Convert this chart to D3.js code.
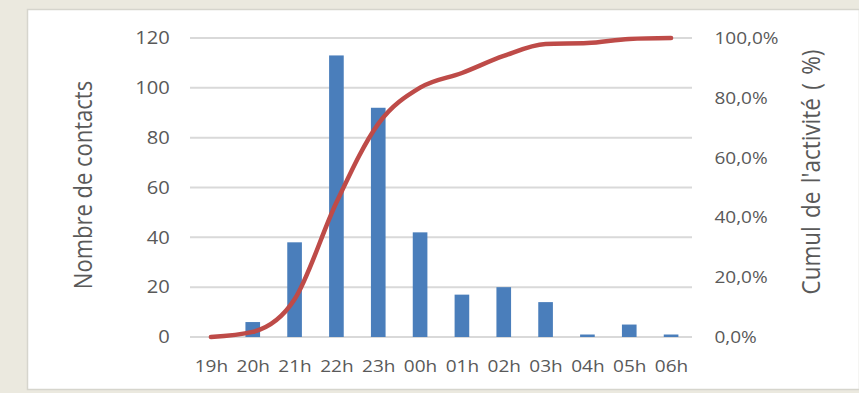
<!DOCTYPE html>
<html>
<head>
<meta charset="utf-8">
<script src="https://cdn.jsdelivr.net/npm/d3@7"></script>
<style>
  html, body { margin: 0; padding: 0; background: #ebe9df; }
  svg { display: block; }
  text { font-family: "Open Sans", sans-serif; fill: #595959; }
</style>
</head>
<body>
<svg id="chart" width="859" height="393"></svg>
<script>
// Heures de la nuit
const hours = ["19h", "20h", "21h", "22h", "23h", "00h", "01h", "02h", "03h", "04h", "05h", "06h"];
// Nombre de contacts par heure
const contacts = [0, 6, 38, 113, 92, 42, 17, 20, 14, 1, 5, 1];
// Cumul de l'activité (%)
const cumul = [0, 1.7, 12.6, 45.0, 71.3, 83.4, 88.3, 94.0, 98.0, 98.3, 99.7, 100];
// Graduations
const leftTicks = [0, 20, 40, 60, 80, 100, 120];
const rightTicks = [0, 20, 40, 60, 80, 100];

const svg = d3.select("#chart");
const W = 859;
const plot = { left: 190, right: 692, top: 38, bottom: 337 };
const textStretch = 1.12;

// Cadre blanc du graphique
svg.append("rect")
  .attr("x", 27.5).attr("y", 9.5)
  .attr("width", W - 27).attr("height", 380)
  .attr("fill", "#ffffff")
  .attr("stroke", "#d6d5cd").attr("stroke-width", 1.5);

const x = d3.scaleBand().domain(hours).range([plot.left, plot.right]).paddingInner(0.65).paddingOuter(0.325);
const xc = d3.scalePoint().domain(hours).range([plot.left, plot.right]).padding(0.5);
const yL = d3.scaleLinear().domain([0, 120]).range([plot.bottom, plot.top]);
const yR = d3.scaleLinear().domain([0, 100]).range([plot.bottom, plot.top]);

// Quadrillage horizontal
svg.append("g").selectAll("line").data(leftTicks).join("line")
  .attr("x1", plot.left).attr("x2", plot.right)
  .attr("y1", d => yL(d)).attr("y2", d => yL(d))
  .attr("stroke", "#d9d9d9").attr("stroke-width", 2);

function styleTicks(g, size) {
  g.select(".domain").remove();
  g.selectAll("text").attr("font-size", size).attr("font-family", "Open Sans")
    .attr("fill", "#595959").attr("transform", `scale(${textStretch},1)`);
}

// Axe gauche
const gL = svg.append("g").attr("transform", `translate(${plot.left},0)`)
  .call(d3.axisLeft(yL).tickValues(leftTicks).tickSize(0).tickPadding(18));
styleTicks(gL, 18);

// Axe droit
const gR = svg.append("g").attr("transform", `translate(${plot.right},0)`)
  .call(d3.axisRight(yR).tickValues(rightTicks).tickSize(0).tickPadding(20)
    .tickFormat(d => d.toFixed(1).replace(".", ",") + "%"));
styleTicks(gR, 17);

// Axe des heures
const gB = svg.append("g").attr("transform", `translate(0,${plot.bottom})`)
  .call(d3.axisBottom(xc).tickSize(0).tickPadding(23));
styleTicks(gB, 17);

// Barres
svg.append("g").selectAll("rect").data(hours).join("rect")
  .attr("x", d => x(d))
  .attr("width", x.bandwidth())
  .attr("y", (d, i) => yL(contacts[i]))
  .attr("height", (d, i) => yL(0) - yL(contacts[i]))
  .attr("fill", "#4a7ebb");

// Courbe cumulée
const line = d3.line()
  .x((d, i) => xc(hours[i]))
  .y(d => yR(d))
  .curve(d3.curveMonotoneX);
svg.append("path").datum(cumul)
  .attr("d", line)
  .attr("fill", "none")
  .attr("stroke", "#be4b48")
  .attr("stroke-width", 4.5)
  .attr("stroke-linejoin", "round")
  .attr("stroke-linecap", "round");

// Titres des axes
svg.append("text")
  .attr("transform", `translate(92,185) rotate(-90) scale(1,${textStretch})`)
  .attr("text-anchor", "middle")
  .attr("font-size", 22)
  .attr("fill", "#606060")
  .text("Nombre de contacts");
svg.append("text")
  .attr("transform", `translate(820,172) rotate(-90) scale(1,${textStretch})`)
  .attr("text-anchor", "middle")
  .attr("font-size", 22.5)
  .attr("word-spacing", 2.5)
  .attr("fill", "#606060")
  .text("Cumul de l'activité ( %)");
</script>
</body>
</html>
